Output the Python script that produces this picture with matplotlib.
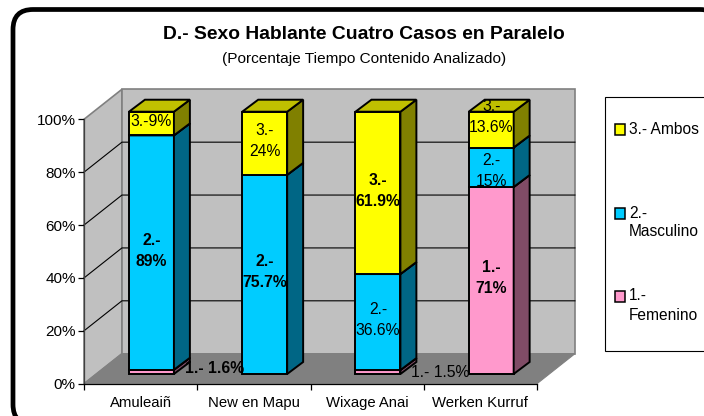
import matplotlib
matplotlib.use('Agg')
import matplotlib.pyplot as plt
from matplotlib.patches import FancyBboxPatch, Polygon, Rectangle
from matplotlib.ticker import PercentFormatter

plt.rcParams['font.family'] = ['Liberation Sans', 'DejaVu Sans']

# Data
casos = ['Amuleaiñ', 'New en Mapu', 'Wixage Anai', 'Werken Kurruf']
femenino = [1.6, 0, 1.5, 71]
masculino = [89, 75.7, 36.6, 15]
ambos = [9, 24, 61.9, 13.6]
yticks = [0, 20, 40, 60, 80, 100]

titulo = 'D.- Sexo Hablante Cuatro Casos en Paralelo'
subtitulo = '(Porcentaje Tiempo Contenido Analizado)'

# (label text, bold, pixel offset from the centre of the segment)
etiq_femenino = [('1.- 1.6%', True, (63, 3)), None, ('1.- 1.5%', False, (62, 0)), ('1.-\n71%', True, (0, 3))]
etiq_masculino = [('2.-\n89%', True, (0, 2)), ('2.-\n75.7%', True, (0, 2)), ('2.-\n36.6%', False, (0, 2)), ('2.-\n15%', False, (0, -4))]
etiq_ambos = [('3.-9%', False, (0, 2)), ('3.-\n24%', False, (0, 2)), ('3.-\n61.9%', True, (0, 2)), ('3.-\n13.6%', False, (0, 13))]

# front, side, top colours
c_fem = ('#FF99CC', '#804C66', '#BF7399')
c_mas = ('#00CCFF', '#006685', '#0099BF')
c_amb = ('#FFFF00', '#808000', '#C0C000')

# 3d look, in data units
depth_x = 0.335
depth_y = 11.35
bar_off = 0.397
bar_w = 0.397
bar_dx = 0.141
bar_dy = 4.54
base = 3.67
scale = 0.992

W, H = 704, 416
fig = plt.figure(figsize=(W / 100, H / 100), dpi=100, facecolor='white')

# pixel layer for the frame, titles and legend
bg = fig.add_axes([0, 0, 1, 1], zorder=0)
bg.set_xlim(0, W)
bg.set_ylim(H, 0)
bg.axis('off')
bg.add_patch(FancyBboxPatch((13, 9.5), 707, 415, boxstyle='round,pad=0,rounding_size=20',
                            fc='white', ec='black', lw=3.4))
bg.text(364, 34.5, titulo, ha='center', va='center', fontsize=13.9, fontweight='bold', color='black')
bg.text(364, 58.5, subtitulo, ha='center', va='center', fontsize=11.1, color='black')

# legend
bg.add_patch(Rectangle((604.5, 97), 130, 253.5, fc='white', ec='black', lw=0.8))
leyenda = [('3.- Ambos', c_amb[0], 129, [129]),
           ('2.-\nMasculino', c_mas[0], 213, [213, 232]),
           ('1.-\nFemenino', c_fem[0], 296, [296, 316])]
for nombre, color, ys, yt in leyenda:
    bg.add_patch(Rectangle((614.5, ys - 5), 10.5, 10.5, fc=color, ec='black', lw=1.1))
    for linea, y in zip(nombre.split('\n'), yt):
        bg.text(629, y, linea, ha='left', va='center', fontsize=11.2, color='black')

# chart axes: the front plane of the box
x0, x1, y0, y1 = 84, 537, 383.7, 119.3
ax = fig.add_axes([x0 / W, 1 - y0 / H, (x1 - x0) / W, (y0 - y1) / H], zorder=1)
ax.patch.set_visible(False)
n = len(casos)
ax.set_xlim(0, n)
ax.set_ylim(0, 100)


def poly(pts, fc, ec='black', lw=1.4, z=2):
    ax.add_patch(Polygon(pts, closed=True, fc=fc, ec=ec, lw=lw, zorder=z, clip_on=False, joinstyle='miter'))


# walls and floor
poly([(0, 0), (depth_x, depth_y), (depth_x, 100 + depth_y), (0, 100)], '#C0C0C0', '#808080', 1.2, 1)
poly([(depth_x, depth_y), (n + depth_x, depth_y), (n + depth_x, 100 + depth_y), (depth_x, 100 + depth_y)],
     '#C0C0C0', '#808080', 1.2, 1)
poly([(0, 0), (n, 0), (n + depth_x, depth_y), (depth_x, depth_y)], '#808080', '#808080', 0.8, 1)
for t in yticks[1:-1]:
    ax.plot([0, depth_x, n + depth_x], [t, t + depth_y, t + depth_y], color='black', lw=0.8,
            zorder=1.5, clip_on=False)

# stacked bars
series = [(femenino, c_fem, etiq_femenino), (masculino, c_mas, etiq_masculino), (ambos, c_amb, etiq_ambos)]
for i in range(n):
    total = femenino[i] + masculino[i] + ambos[i]
    acum = 0
    for vals, cols, etiq in series:
        v = vals[i]
        if v == 0:
            continue
        a = base + scale * acum / total * 100
        acum += v
        b = base + scale * acum / total * 100
        l = i + bar_off
        r = l + bar_w
        poly([(l, a), (r, a), (r, b), (l, b)], cols[0])
        poly([(r, a), (r + bar_dx, a + bar_dy), (r + bar_dx, b + bar_dy), (r, b)], cols[1])
        poly([(l, b), (r, b), (r + bar_dx, b + bar_dy), (l + bar_dx, b + bar_dy)], cols[2])
        txt, bold, off = etiq[i]
        ax.annotate(txt, xy=((l + r) / 2, (a + b) / 2), xytext=off, textcoords='offset pixels',
                    ha='center', va='center', fontsize=11.3, linespacing=1.5, color='black',
                    fontweight='bold' if bold else 'normal', zorder=5, annotation_clip=False)

# axes
ax.set_yticks(yticks)
ax.yaxis.set_major_formatter(PercentFormatter(100, decimals=0))
ax.set_xticks(range(n + 1))
ax.set_xticklabels([])
ax.set_xticks([i + 0.5 for i in range(n)], minor=True)
ax.set_xticklabels(casos, minor=True)
ax.tick_params(axis='x', which='minor', length=0, pad=9, labelsize=10.7)
ax.tick_params(axis='x', which='major', length=4, width=0.9, color='black')
ax.tick_params(axis='y', length=4, width=0.9, color='black', labelsize=11, pad=2)
for s in ['top', 'right']:
    ax.spines[s].set_visible(False)
ax.spines['left'].set_color('#404040')
ax.spines['left'].set_linewidth(0.9)
ax.spines['bottom'].set_color('black')
ax.spines['bottom'].set_linewidth(0.9)

fig.savefig('out.png', dpi=100)
